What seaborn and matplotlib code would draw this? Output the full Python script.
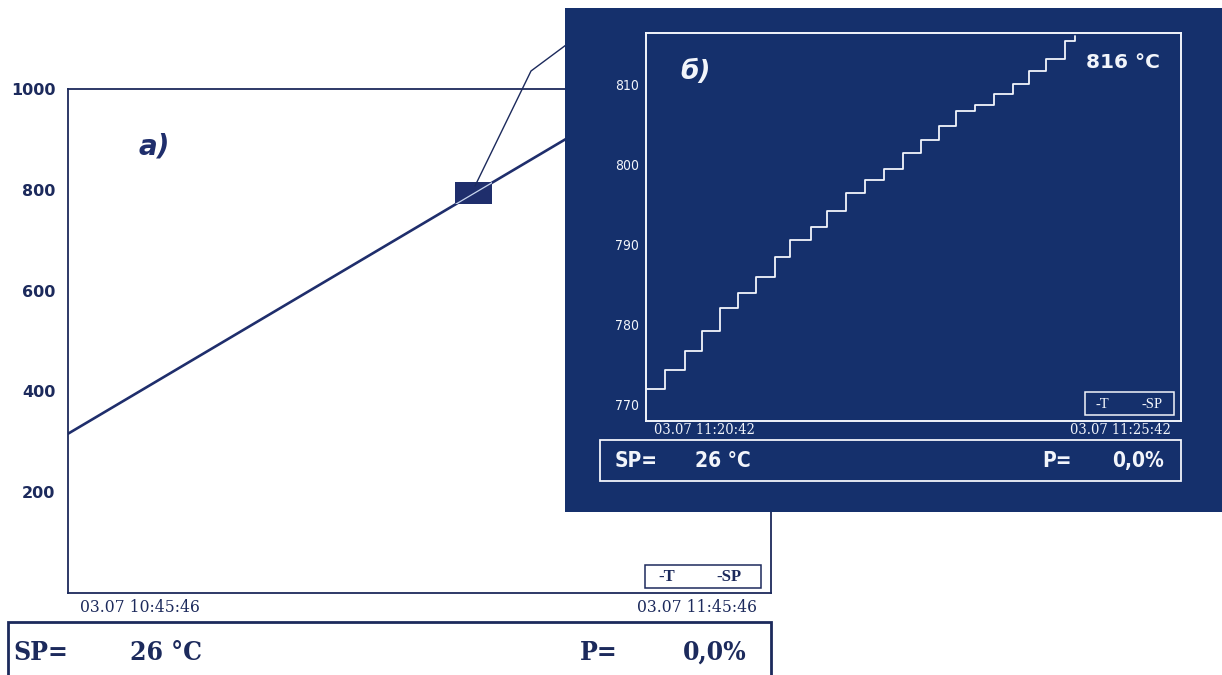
import numpy as np
import pandas as pd
import matplotlib
matplotlib.use('Agg')
import matplotlib.pyplot as plt
import seaborn as sns
from matplotlib.patches import Rectangle
from matplotlib.lines import Line2D

# --- chart a): one hour of the temperature ramp (minutes from 10:45:46)
main_t = [0.0, 49.7]
main_T = [316, 1000]
main_yticks = [200, 400, 600, 800, 1000]
main_start = '03.07 10:45:46'
main_end = '03.07 11:45:46'
# the zoomed window marked on chart a)
zoom_t = [33.0, 36.2]
zoom_T = [772, 816]

# --- chart б): five minutes of the same ramp (seconds from 11:20:42)
step_t = [0, 10.9, 21.6, 31.6, 41.5, 51.4, 61.9, 72.1, 81.0, 92.4,
          101.4, 112.3, 122.7, 133.6, 144.0, 154.4, 164.1, 173.8, 184.3, 194.9,
          205.6, 215.0, 224.5, 234.7, 240.6]
step_T = [772, 774.3, 776.7, 779.2, 782.1, 784.0, 786.0, 788.5, 790.6, 792.2,
          794.2, 796.5, 798.1, 799.4, 801.4, 803.1, 804.8, 806.7, 807.4, 808.8,
          810.0, 811.7, 813.1, 815.4, 816]
inset_yticks = [770, 780, 790, 800, 810]
inset_start = '03.07 11:20:42'
inset_end = '03.07 11:25:42'
current_T = '816 °C'

sp_label, sp_value = 'SP=', '26 °C'
p_label, p_value = 'P=', '0,0%'

navy = '#1c2a5c'
line_navy = '#1f2e6c'
panel = '#15306c'
white = '#f2f5fb'

sns.set_style('white')
plt.rcParams['font.family'] = ['DejaVu Sans']

W, H = 1222, 675
fig = plt.figure(figsize=(W / 100, H / 100), dpi=100)


def fx(x):
    return x / W


def fy(y):
    return 1 - y / H


def box(x0, y0, x1, y1):
    return [x0 / W, 1 - y1 / H, (x1 - x0) / W, (y1 - y0) / H]


# ---------------- chart a)
ax = fig.add_axes(box(68, 89, 771, 593))
df_main = pd.DataFrame({'t': main_t, 'T': main_T})
sns.lineplot(data=df_main, x='t', y='T', ax=ax, color=line_navy, linewidth=1.9)
ax.set_xlim(0, 60)
ax.set_ylim(0, 1000)
ax.set_yticks(main_yticks)
ax.set_xticks([])
ax.set_xlabel('')
ax.set_ylabel('')
ax.tick_params(axis='y', length=0, pad=9, labelsize=11.5, colors=navy)
for lab in ax.get_yticklabels():
    lab.set_fontweight('semibold')
for sp in ax.spines.values():
    sp.set_visible(True)
    sp.set_color(navy)
    sp.set_linewidth(1.3)

zr = Rectangle((zoom_t[0], zoom_T[0]), zoom_t[1] - zoom_t[0], zoom_T[1] - zoom_T[0],
               facecolor=line_navy, edgecolor='none', zorder=3)
ax.add_patch(zr)
hl, = ax.plot(main_t, main_T, color='#c9d6ee', lw=0.9, zorder=4)
hl.set_clip_path(zr)

ax.text(0.1, 0.885, 'a)', transform=ax.transAxes, fontsize=20, fontstyle='italic',
        fontweight='bold', color=line_navy, va='center')

# legend box of a)
fig.add_artist(Rectangle((fx(645), fy(588)), (761 - 645) / W, (588 - 565) / H,
                         transform=fig.transFigure, fill=False, ec=navy, lw=1.1, zorder=2))
fig.text(fx(658), fy(577), '-T', fontsize=12, family='Liberation Serif', color=navy,
         va='center', fontweight='bold', zorder=2)
fig.text(fx(716), fy(577), '-SP', fontsize=12, family='Liberation Serif', color=navy,
         va='center', fontweight='bold', zorder=2)

fig.text(fx(80), fy(608), main_start, fontsize=12.5, family='DejaVu Serif',
         fontstretch='condensed', color=navy, va='center', ha='left')
fig.text(fx(757), fy(608), main_end, fontsize=12.5, family='DejaVu Serif',
         fontstretch='condensed', color=navy, va='center', ha='right')

# status bar of a)
fig.add_artist(Rectangle((fx(8), fy(700)), (771 - 8) / W, (700 - 622) / H,
                         transform=fig.transFigure, fill=False, ec=navy, lw=2.0, zorder=2))
for x, s, ha in [(13, sp_label, 'left'), (130, sp_value, 'left'),
                 (580, p_label, 'left'), (747, p_value, 'right')]:
    fig.text(fx(x), fy(652), s, fontsize=19, family='DejaVu Serif', fontweight='bold',
             fontstretch='condensed', color=navy, va='center', ha=ha)

# connector from the marked window to the inset
fig.add_artist(Line2D([fx(475), fx(531), fx(566)], [fy(186), fy(71), fy(45)],
                      transform=fig.transFigure, color=navy, lw=1.0, zorder=2))

# ---------------- inset б)
fig.add_artist(Rectangle((fx(565), fy(512)), (W - 565) / W, (512 - 8) / H,
                         transform=fig.transFigure, fc=panel, ec='none', zorder=5))

ax2 = fig.add_axes(box(646, 33, 1181, 421))
ax2.set_zorder(6)
ax2.set_facecolor(panel)
df_step = pd.DataFrame({'t': step_t, 'T': step_T})
sns.lineplot(data=df_step, x='t', y='T', ax=ax2, color=white, linewidth=1.3,
             drawstyle='steps-post')
ax2.set_xlim(0, 300)
ax2.set_ylim(768, 816.4)
ax2.set_yticks(inset_yticks)
ax2.set_xticks([])
ax2.set_xlabel('')
ax2.set_ylabel('')
ax2.tick_params(axis='y', length=0, pad=5, labelsize=10, colors=white)
for lab in ax2.get_yticklabels():
    lab.set_family('DejaVu Sans')
    lab.set_fontstretch('condensed')
for sp in ax2.spines.values():
    sp.set_visible(True)
    sp.set_color(white)
    sp.set_linewidth(1.4)

ax2.text(0.065, 0.9, 'б)', transform=ax2.transAxes, fontsize=19, fontstyle='italic',
         fontweight='bold', color=white, va='center')
ax2.text(0.96, 0.925, current_T, transform=ax2.transAxes, fontsize=14.5,
         fontweight='bold', color=white, va='center', ha='right')

fig.add_artist(Rectangle((fx(1085), fy(415)), (1174 - 1085) / W, (415 - 392) / H,
                         transform=fig.transFigure, fill=False, ec=white, lw=1.1, zorder=7))
fig.text(fx(1096), fy(404), '-T', fontsize=10.5, family='Liberation Serif', color=white,
         va='center', zorder=7)
fig.text(fx(1142), fy(404), '-SP', fontsize=10.5, family='Liberation Serif', color=white,
         va='center', zorder=7)

fig.text(fx(654), fy(430), inset_start, fontsize=10.5, family='DejaVu Serif',
         fontstretch='condensed', color=white, va='center', ha='left', zorder=7)
fig.text(fx(1171), fy(430), inset_end, fontsize=10.5, family='DejaVu Serif',
         fontstretch='condensed', color=white, va='center', ha='right', zorder=7)

fig.add_artist(Rectangle((fx(600), fy(481)), (1181 - 600) / W, (481 - 440) / H,
                         transform=fig.transFigure, fill=False, ec=white, lw=1.3, zorder=7))
for x, s, ha in [(615, sp_label, 'left'), (695, sp_value, 'left'),
                 (1042, p_label, 'left'), (1164, p_value, 'right')]:
    fig.text(fx(x), fy(461), s, fontsize=15, fontweight='bold', color=white,
             fontstretch='condensed', va='center', ha=ha, zorder=7)

fig.savefig('out.png', dpi=100)
